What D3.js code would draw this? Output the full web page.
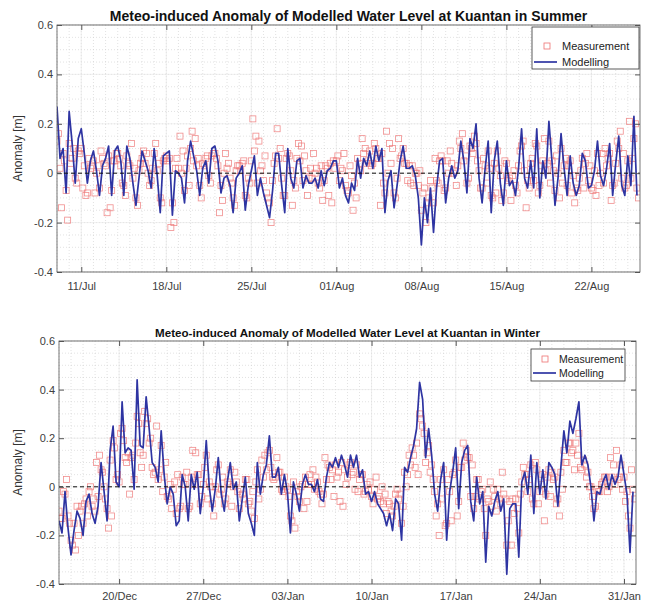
<!DOCTYPE html>
<html><head><meta charset="utf-8">
<script src="https://cdn.jsdelivr.net/npm/d3@7"></script>
<style>
body{margin:0;background:#fff}
text{font-family:Arial,"Liberation Sans",Helvetica,sans-serif}
</style>
</head><body>
<svg id="chart" width="651" height="602"></svg>
<script>
// ---------------- DATA ----------------
const summerTitle = "Meteo-induced Anomaly of Modelled Water Level at Kuantan in Summer";
const winterTitle = "Meteo-induced Anomaly of Modelled Water Level at Kuantan in Winter";
const summerStart = "2019-07-09T00:00:00Z";
const summerEnd   = "2019-08-26T00:00:00Z";
const winterStart = "2019-12-15T00:00:00Z";
const winterEnd   = "2020-02-01T00:00:00Z";
const summerTicks = ["2019-07-11","2019-07-18","2019-07-25","2019-08-01","2019-08-08","2019-08-15","2019-08-22"];
const winterTicks = ["2019-12-20","2019-12-27","2020-01-03","2020-01-10","2020-01-17","2020-01-24","2020-01-31"];
const yTicks = [-0.4,-0.2,0,0.2,0.4,0.6];
const stepHours = 6; // every series sampled every 6 h

// model (00,06,12,18 h)
const summerModel = [
0.27,0.06,0.10,-0.08, 0.25,0.12,-0.04,0.14, 0.18,0.08,-0.04,0.05, 0.09,0.01,-0.09,0.03,
0.06,0.11,-0.09,0.09, 0.11,0.05,-0.09,0.11, 0.06,-0.04,-0.13,-0.02, 0.09,0.05,0.01,-0.06,
0.10,-0.01,-0.16,0.07, 0.08,0.09,-0.17,0.01, 0.00,-0.02,-0.12,0.05, 0.13,0.07,0.01,-0.09,
0.02,0.05,-0.04,0.10, 0.11,0.05,-0.08,-0.02, -0.01,-0.05,-0.16,-0.02, 0.00,0.03,-0.15,-0.05,
0.01,0.07,-0.09,-0.02, -0.08,-0.13,-0.18,-0.07, 0.08,0.08,-0.05,-0.16, 0.10,-0.02,-0.06,0.05,
0.06,-0.06,-0.01,-0.04, -0.04,-0.02,-0.06,0.01, -0.05,0.01,0.02,0.05, 0.05,-0.06,-0.02,-0.09,
-0.12,-0.04,-0.07,0.06, -0.02,0.06,0.03,0.09, 0.02,0.11,0.05,0.10, -0.16,-0.03,0.01,-0.14,
-0.05,0.05,0.11,0.02, 0.02,0.03,-0.01,-0.10, -0.29,-0.10,-0.20,-0.06, -0.24,-0.06,0.05,0.06,
-0.12,-0.02,0.03,-0.02, 0.01,0.13,0.05,-0.08, 0.14,0.10,0.20,-0.02, -0.12,0.02,0.13,-0.16,
0.05,0.13,-0.04,-0.13, 0.05,-0.05,-0.03,-0.09, 0.02,0.18,-0.02,-0.06, 0.05,-0.06,0.18,-0.10,
0.05,-0.02,0.21,0.05, -0.13,-0.02,0.16,0.02, -0.09,0.07,-0.04,-0.09, -0.05,0.08,0.05,-0.06,
-0.05,0.01,0.13,-0.01, -0.05,0.02,0.12,-0.09, 0.04,0.15,-0.05,-0.09, 0.07,-0.05,0.23,-0.09
];
// measurements at 03,09,15,21 h
const summerMeasOdd = [
0.16,-0.14,0.05,-0.19, 0.04,0.10,-0.04,0.08, -0.06,-0.09,0.06,0.03, -0.08,0.03,0.09,0.04,
-0.16,-0.14,0.05,0.08, 0.06,-0.04,-0.09,0.04, 0.12,0.02,-0.13,0.04, 0.09,0.08,-0.05,0.02,
0.12,0.04,-0.12,0.06, 0.05,-0.22,-0.20,0.06, 0.15,0.09,0.02,-0.05, 0.17,0.14,0.06,-0.10,
0.03,0.07,-0.04,0.08, 0.06,-0.16,-0.11,0.08, 0.04,-0.04,-0.13,0.03, 0.01,0.05,-0.10,-0.04,
0.22,0.15,0.13,0.03, 0.07,-0.10,-0.20,0.04, 0.18,0.10,-0.09,0.06, 0.07,-0.13,-0.06,0.12,
0.11,0.07,-0.09,0.02, 0.08,0.02,-0.06,-0.11, 0.03,-0.09,-0.12,0.02, 0.07,0.02,0.08,-0.07,
0.03,-0.15,-0.10,0.04, 0.14,0.10,0.05,0.03, 0.12,0.06,-0.13,-0.04, 0.17,0.12,0.10,-0.10,
0.14,0.07,0.04,-0.03, -0.04,-0.05,0.00,0.01, -0.08,-0.20,-0.10,-0.06, 0.06,-0.04,0.07,-0.07,
0.05,0.09,0.00,-0.05, 0.13,0.16,0.07,-0.02, 0.10,0.15,0.05,-0.06, 0.06,-0.04,0.02,-0.10,
-0.08,0.02,-0.11,0.05, -0.03,-0.11,0.01,-0.08, 0.09,0.13,-0.14,-0.06, 0.06,0.12,-0.08,0.03,
0.14,0.04,-0.04,0.01, 0.07,-0.10,-0.04,0.06, 0.03,-0.08,-0.12,-0.07, 0.01,-0.06,0.08,0.03,
-0.07,-0.09,-0.05,0.08, 0.10,0.06,-0.11,-0.04, 0.13,0.17,0.08,-0.05, 0.21,0.06,0.20,-0.10
];
// measurements at 00,06,12,18 h
const summerMeasEven = [
0.13,0.02,0.08,-0.07, 0.12,0.06,-0.02,0.09, 0.10,0.03,-0.08,0.02, 0.05,0.00,-0.06,0.06,
0.03,0.07,-0.07,0.05, 0.08,0.03,-0.05,0.07, 0.03,-0.02,-0.10,0.01, 0.06,0.04,0.00,-0.03,
0.08,0.01,-0.10,0.05, 0.07,0.06,-0.12,0.02, 0.02,0.00,-0.07,0.07, 0.10,0.05,0.03,-0.05,
0.04,0.06,-0.01,0.07, 0.08,0.03,-0.05,0.00, 0.02,-0.02,-0.10,0.01, 0.03,0.04,-0.09,-0.02,
0.05,0.09,-0.04,0.01, -0.03,-0.08,-0.12,-0.03, 0.07,0.06,-0.02,-0.09, 0.08,0.01,-0.03,0.06,
0.05,-0.03,0.01,-0.02, -0.02,0.00,-0.04,0.03, -0.03,0.02,0.04,0.05, 0.05,-0.03,0.01,-0.05,
-0.08,-0.01,-0.04,0.06, 0.01,0.08,0.04,0.09, 0.04,0.10,0.06,0.08, -0.08,0.00,0.04,-0.08,
-0.02,0.06,0.10,0.04, 0.03,0.03,0.00,-0.05, -0.15,-0.06,-0.12,-0.03, -0.12,-0.03,0.05,0.05,
-0.06,0.00,0.04,0.01, 0.03,0.10,0.05,-0.04, 0.11,0.08,0.12,0.01, -0.06,0.03,0.09,-0.09,
0.04,0.09,-0.01,-0.08, 0.04,-0.02,-0.01,-0.05, 0.03,0.11,0.01,-0.03, 0.04,-0.03,0.11,-0.05,
0.05,0.01,0.13,0.05, -0.07,0.00,0.10,0.03, -0.05,0.05,-0.01,-0.06, -0.02,0.06,0.04,-0.03,
-0.06,0.01,0.08,0.00, -0.04,0.03,0.08,-0.05, 0.04,0.10,-0.02,-0.06, 0.05,-0.02,0.14,-0.06
];
const winterModel = [
-0.14,-0.19,-0.02,-0.17, -0.28,-0.18,-0.10,-0.13, -0.20,-0.06,-0.03,-0.11, -0.15,-0.08,0.10,-0.02,
-0.14,0.15,0.25,0.02, 0.00,0.35,0.14,0.16, 0.15,-0.01,0.44,0.17, 0.16,0.37,0.24,0.10,
0.08,0.02,0.23,0.05, -0.07,0.00,-0.03,-0.16, -0.14,0.05,0.00,-0.14, 0.05,-0.01,0.06,-0.11,
0.00,0.19,0.00,-0.10, -0.01,0.12,-0.03,-0.10, 0.02,0.10,-0.01,0.02, -0.14,-0.05,0.04,-0.11,
-0.15,-0.20,0.10,-0.03, 0.05,0.09,0.21,0.04, 0.04,0.08,-0.03,0.05, -0.02,-0.19,0.02,-0.03,
-0.10,0.01,0.05,0.01, 0.01,-0.02,0.03,-0.05, -0.06,0.04,0.10,0.08, 0.12,0.08,0.13,0.09,
0.04,0.13,0.08,0.13, 0.04,0.07,-0.03,-0.02, -0.06,-0.02,-0.07,-0.09, -0.11,-0.16,-0.11,-0.18,
-0.05,-0.07,-0.22,0.08, 0.06,0.12,0.17,0.24, 0.43,0.36,0.12,0.24, 0.13,-0.03,-0.10,0.03,
0.10,-0.22,-0.02,0.06, 0.16,-0.09,0.10,0.15, 0.17,-0.06,-0.14,0.04, -0.07,-0.02,-0.31,-0.08,
-0.12,-0.06,-0.02,-0.10, -0.05,-0.36,-0.09,-0.07, -0.07,-0.29,0.02,0.06, -0.03,0.13,-0.11,0.10,
-0.03,0.07,-0.05,0.10, 0.08,0.05,-0.08,0.08, 0.23,0.14,0.27,0.22, 0.28,0.35,0.09,0.13,
0.09,0.00,-0.14,-0.02, -0.03,0.02,0.05,-0.01, 0.05,0.01,0.04,0.13, 0.05,-0.03,-0.27,-0.02
];
const winterMeasOdd = [
-0.13,-0.02,0.03,-0.15, -0.24,-0.26,-0.20,-0.08, -0.07,-0.12,0.00,-0.05, 0.10,0.13,0.06,-0.05,
-0.17,-0.12,0.16,0.05, 0.22,0.19,0.10,-0.03, 0.13,0.18,0.26,0.08, 0.31,0.28,0.20,0.05,
0.25,0.07,-0.02,0.10, -0.05,-0.09,0.02,0.05, -0.08,0.01,0.06,-0.08, 0.15,0.14,0.05,-0.04,
0.08,-0.05,0.00,-0.12, 0.07,-0.03,0.04,-0.05, 0.01,-0.08,0.06,-0.02, -0.01,-0.05,0.03,-0.06,
-0.02,0.02,-0.05,0.11, 0.13,0.14,0.08,0.03, 0.12,0.06,-0.02,0.00, -0.04,-0.14,-0.17,-0.04,
0.00,-0.09,-0.06,0.05, 0.07,0.04,-0.02,-0.07, 0.12,0.09,0.03,-0.04, 0.04,-0.06,-0.08,0.01,
0.09,0.05,-0.01,-0.02, 0.05,-0.03,0.01,0.02, -0.07,0.04,-0.04,0.00, -0.03,-0.06,-0.10,-0.08,
-0.01,-0.03,-0.08,0.00, 0.13,0.16,0.08,0.05, 0.28,0.22,0.14,0.06, 0.03,-0.12,-0.20,-0.05,
-0.16,0.03,-0.14,0.06, -0.12,0.08,0.18,0.15, 0.12,0.09,-0.04,0.03, -0.02,-0.09,-0.05,0.02,
-0.01,-0.10,-0.05,0.06, -0.05,-0.14,-0.24,-0.11, -0.09,-0.03,0.08,0.05, 0.03,-0.05,0.10,-0.07,
0.01,-0.14,0.04,-0.04, 0.03,-0.07,-0.12,-0.01, 0.10,0.18,0.14,0.07, 0.13,0.08,0.11,0.04,
0.00,-0.04,-0.08,-0.02, 0.01,0.04,-0.02,0.12, 0.09,0.15,0.04,-0.01, -0.06,-0.12,0.07,-0.05
];
const winterMeasEven = [
-0.10,-0.13,-0.03,-0.12, -0.22,-0.15,-0.08,-0.10, -0.15,-0.05,-0.02,-0.08, -0.10,-0.04,0.07,0.00,
-0.09,0.11,0.19,0.03, 0.02,0.24,0.12,0.14, 0.12,0.03,0.29,0.14, 0.13,0.26,0.18,0.08,
0.06,0.03,0.17,0.04, -0.04,0.01,-0.01,-0.11, -0.09,0.04,0.01,-0.09, 0.04,0.01,0.05,-0.07,
0.01,0.13,0.02,-0.07, 0.00,0.09,-0.01,-0.07, 0.02,0.07,0.00,0.02, -0.09,-0.03,0.03,-0.07,
-0.10,-0.13,0.07,-0.01, 0.04,0.07,0.15,0.04, 0.04,0.06,-0.01,0.04, -0.01,-0.12,0.02,-0.02,
-0.06,0.01,0.04,0.01, 0.01,-0.01,0.02,-0.03, -0.03,0.03,0.08,0.07, 0.09,0.06,0.10,0.07,
0.04,0.10,0.06,0.09, 0.03,0.05,-0.02,-0.01, -0.04,-0.01,-0.05,-0.06, -0.07,-0.11,-0.07,-0.12,
-0.03,-0.05,-0.15,0.06, 0.05,0.09,0.13,0.18, 0.30,0.25,0.10,0.17, 0.09,-0.02,-0.07,0.03,
0.07,-0.15,-0.02,0.05, 0.11,-0.06,0.08,0.11, 0.12,-0.04,-0.09,0.03, -0.05,-0.01,-0.20,-0.06,
-0.08,-0.04,-0.01,-0.07, -0.03,-0.24,-0.06,-0.05, -0.05,-0.19,0.02,0.05, -0.02,0.09,-0.07,0.07,
-0.02,0.05,-0.03,0.07, 0.06,0.04,-0.05,0.06, 0.15,0.10,0.18,0.15, 0.18,0.22,0.07,0.09,
0.06,0.00,-0.09,-0.01, -0.02,0.02,0.04,0.00, 0.04,0.01,0.03,0.09, 0.04,-0.02,-0.17,-0.01
];

// ---------------- DRAW ----------------
const svg = d3.select("#chart");
svg.append("rect").attr("width",651).attr("height",602).attr("fill","#fff");
const HOUR = 3600e3;
const fmtDate = d3.utcFormat("%d/%b");
const fmtY = v => (Math.abs(v) < 1e-9 ? "0" : String(+v.toFixed(1)));
const MEAS_COLOR = "#ee7272", MODEL_COLOR = "#2e34a2";

function panel(cfg, idx) {
  const {left, right, top, bottom} = cfg;
  const t0 = new Date(cfg.start), t1 = new Date(cfg.end);
  const x = d3.scaleUtc().domain([t0, t1]).range([left, right]);
  const y = d3.scaleLinear().domain([-0.4, 0.6]).range([bottom, top]);
  const g = svg.append("g");

  const clipId = "clip" + idx;
  svg.append("clipPath").attr("id", clipId).append("rect")
    .attr("x", left).attr("y", top).attr("width", right - left).attr("height", bottom - top);

  // minor grid
  const days = d3.utcDay.range(t0, t1);
  g.append("g").selectAll("line").data(days).join("line")
    .attr("x1", d => x(d)).attr("x2", d => x(d)).attr("y1", top).attr("y2", bottom)
    .attr("stroke", "#cfcfcf").attr("stroke-width", 0.6).attr("stroke-dasharray", "1,2");
  const minorY = d3.range(-0.4, 0.6001, 0.05);
  g.append("g").selectAll("line").data(minorY).join("line")
    .attr("x1", left).attr("x2", right).attr("y1", d => y(d)).attr("y2", d => y(d))
    .attr("stroke", "#cfcfcf").attr("stroke-width", 0.6).attr("stroke-dasharray", "1,2");
  // major grid
  const tickDates = cfg.ticks.map(s => new Date(s + "T00:00:00Z"));
  g.append("g").selectAll("line").data(tickDates).join("line")
    .attr("x1", d => x(d)).attr("x2", d => x(d)).attr("y1", top).attr("y2", bottom)
    .attr("stroke", "#e6e6e6").attr("stroke-width", 0.6);
  g.append("g").selectAll("line").data(yTicks).join("line")
    .attr("x1", left).attr("x2", right).attr("y1", d => y(d)).attr("y2", d => y(d))
    .attr("stroke", "#e6e6e6").attr("stroke-width", 0.6);

  const plot = g.append("g").attr("clip-path", `url(#${clipId})`);
  // measurements
  const meas = cfg.measEven.map((v, i) => ({t: new Date(+t0 + i * stepHours * HOUR), v}))
    .concat(cfg.measOdd.map((v, i) => ({t: new Date(+t0 + (3 + i * stepHours) * HOUR), v})));
  plot.append("g").selectAll("rect").data(meas).join("rect")
    .attr("x", d => x(d.t) - 3).attr("y", d => y(d.v) - 3)
    .attr("width", 6).attr("height", 6)
    .attr("fill", "none").attr("stroke", MEAS_COLOR).attr("stroke-width", 0.8).attr("opacity", 0.8);
  // model
  const model = cfg.model.map((v, i) => ({t: new Date(+t0 + i * stepHours * HOUR), v}));
  plot.append("path").datum(model)
    .attr("d", d3.line().x(d => x(d.t)).y(d => y(d.v)))
    .attr("fill", "none").attr("stroke", MODEL_COLOR).attr("stroke-width", 1.7)
    .attr("stroke-linejoin", "round");
  // zero line
  plot.append("line").attr("x1", left).attr("x2", right).attr("y1", y(0)).attr("y2", y(0))
    .attr("stroke", "#111").attr("stroke-width", 1).attr("stroke-dasharray", "4,3");

  // axes
  const axisColor = "#555";
  const styleAxis = sel => {
    sel.select(".domain").remove();
    sel.selectAll("line").attr("stroke", axisColor);
    sel.selectAll("text").attr("fill", "#404040").attr("font-size", 11)
      .attr("font-family", "Arial, 'Liberation Sans', sans-serif");
  };
  g.append("g").attr("transform", `translate(0,${bottom})`)
    .call(d3.axisBottom(x).tickValues(tickDates).tickFormat(fmtDate).tickSizeInner(-5).tickSizeOuter(0).tickPadding(cfg.xPad))
    .call(styleAxis);
  g.append("g").attr("transform", `translate(0,${top})`)
    .call(d3.axisTop(x).tickValues(tickDates).tickFormat("").tickSizeInner(-5).tickSizeOuter(0))
    .call(styleAxis);
  g.append("g").attr("transform", `translate(${left},0)`)
    .call(d3.axisLeft(y).tickValues(yTicks).tickFormat(fmtY).tickSizeInner(-5).tickSizeOuter(0).tickPadding(4))
    .call(styleAxis);
  g.append("g").attr("transform", `translate(${right},0)`)
    .call(d3.axisRight(y).tickValues(yTicks).tickFormat("").tickSizeInner(-5).tickSizeOuter(0))
    .call(styleAxis);
  g.append("rect").attr("x", left).attr("y", top).attr("width", right - left).attr("height", bottom - top)
    .attr("fill", "none").attr("stroke", axisColor).attr("stroke-width", 0.8);

  // y label
  g.append("text").attr("transform", `translate(22,${(top + bottom) / 2}) rotate(-90)`)
    .attr("text-anchor", "middle").attr("font-size", 12).attr("fill", "#333").text("Anomaly [m]");
  // title
  g.append("text").attr("x", (left + right) / 2).attr("y", cfg.titleY)
    .attr("text-anchor", "middle").attr("font-weight", "bold").attr("font-size", cfg.titleSize)
    .attr("fill", "#111").text(cfg.title);

  // legend
  const L = cfg.legend;
  const lg = g.append("g");
  lg.append("rect").attr("x", L.x).attr("y", L.y).attr("width", L.w).attr("height", L.h)
    .attr("fill", "#fff").attr("stroke", "#333").attr("stroke-width", 0.8);
  lg.append("rect").attr("x", L.mx - 3).attr("y", L.r1 - 3).attr("width", 6).attr("height", 6)
    .attr("fill", "none").attr("stroke", MEAS_COLOR).attr("stroke-width", 0.8);
  lg.append("line").attr("x1", L.x + 2).attr("x2", L.x + 25).attr("y1", L.r2).attr("y2", L.r2)
    .attr("stroke", MODEL_COLOR).attr("stroke-width", 1.7);
  lg.append("text").attr("x", L.tx).attr("y", L.r1).attr("dy", "0.35em")
    .attr("font-size", L.fs).attr("fill", "#222").text("Measurement");
  lg.append("text").attr("x", L.tx).attr("y", L.r2).attr("dy", "0.35em")
    .attr("font-size", L.fs).attr("fill", "#222").text("Modelling");
}

panel({left: 57, right: 640, top: 25, bottom: 272, start: summerStart, end: summerEnd,
  ticks: summerTicks, model: summerModel, measOdd: summerMeasOdd, measEven: summerMeasEven,
  title: summerTitle, titleSize: 14, titleY: 21, xPad: 10,
  legend: {x: 532, y: 27, w: 107, h: 42, mx: 547, tx: 562, r1: 46, r2: 62, fs: 11}}, 0);
panel({left: 59, right: 636, top: 341, bottom: 584, start: winterStart, end: winterEnd,
  ticks: winterTicks, model: winterModel, measOdd: winterMeasOdd, measEven: winterMeasEven,
  title: winterTitle, titleSize: 11.6, titleY: 337, xPad: 8.5,
  legend: {x: 531, y: 349, w: 94, h: 32, mx: 545, tx: 559, r1: 359, r2: 373, fs: 10.5}}, 1);
</script>
</body></html>
